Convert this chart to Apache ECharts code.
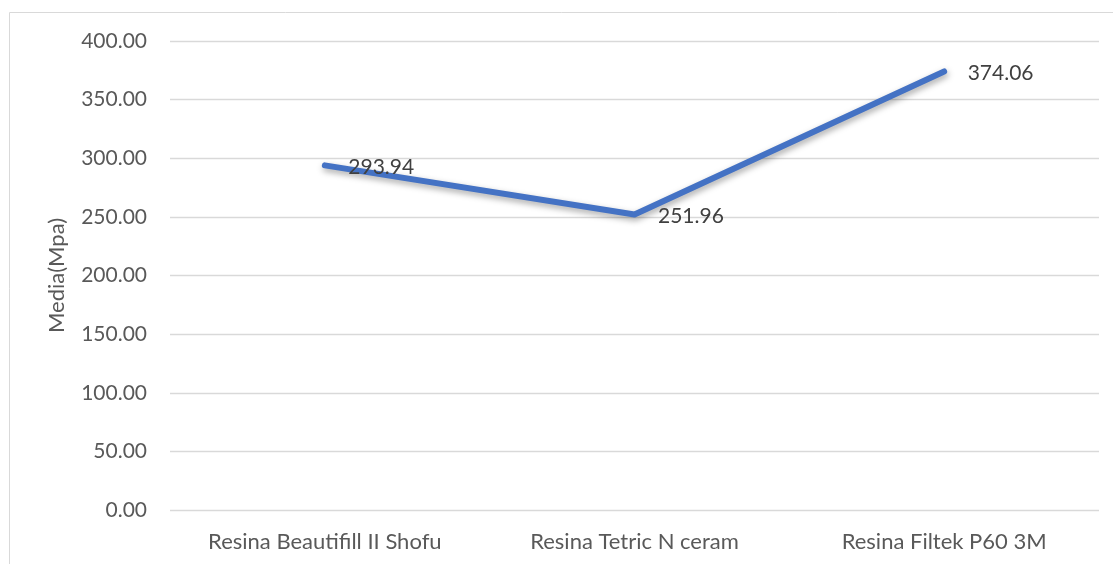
<!DOCTYPE html>
<html>
<head>
<meta charset="utf-8">
<script src="https://cdn.jsdelivr.net/npm/echarts@6/dist/echarts.min.js"></script>
<style>
  html, body { margin: 0; padding: 0; background: #fff; }
  #main { width: 1113px; height: 564px; }
</style>
</head>
<body>
<div id="main"></div>
<script>
// categorías y valores medios
const categories = ['Resina Beautifill II Shofu', 'Resina Tetric N ceram', 'Resina Filtek P60 3M'];
const mediaValues = [293.94, 251.96, 374.06];

const fontFamily = 'Lato, "Open Sans", sans-serif';

const option = {
  animation: false,
  textStyle: { fontFamily },
  graphic: [{
    type: 'rect',
    shape: { x: 9.5, y: 12.5, width: 1200, height: 600 },
    style: { fill: 'none', stroke: '#d9d9d9', lineWidth: 1 },
    silent: true
  }],
  grid: { left: 170, right: 14, top: 41, bottom: 54 },
  xAxis: {
    type: 'category',
    data: categories,
    boundaryGap: true,
    axisLine: { show: false },
    axisTick: { show: false },
    axisLabel: { color: '#595959', fontSize: 22, margin: 21, fontFamily }
  },
  yAxis: {
    type: 'value',
    min: 0,
    max: 400,
    interval: 50,
    name: 'Media(Mpa)',
    nameLocation: 'middle',
    nameGap: 102,
    nameTextStyle: { color: '#595959', fontSize: 22, fontFamily },
    axisLine: { show: false },
    axisTick: { show: false },
    axisLabel: {
      color: '#595959', fontSize: 21, margin: 23, fontFamily,
      formatter: v => v.toFixed(2)
    },
    splitLine: { lineStyle: { color: '#d9d9d9', width: 1.3 } }
  },
  series: [{
    type: 'line',
    data: mediaValues,
    symbol: 'circle',
    symbolSize: 1,
    showSymbol: true,
    itemStyle: { color: '#4472C4' },
    lineStyle: {
      color: '#4472C4', width: 6, cap: 'round', join: 'round',
      shadowColor: 'rgba(0,0,0,0.35)', shadowBlur: 6, shadowOffsetX: 1, shadowOffsetY: 3
    },
    label: {
      show: true,
      position: 'right',
      distance: 23,
      offset: [0, 2],
      color: '#404040',
      fontSize: 21,
      fontFamily,
      formatter: p => p.value.toFixed(2)
    }
  }]
};

const myChart = echarts.init(document.getElementById('main'));
myChart.setOption(option);
</script>
</body>
</html>
